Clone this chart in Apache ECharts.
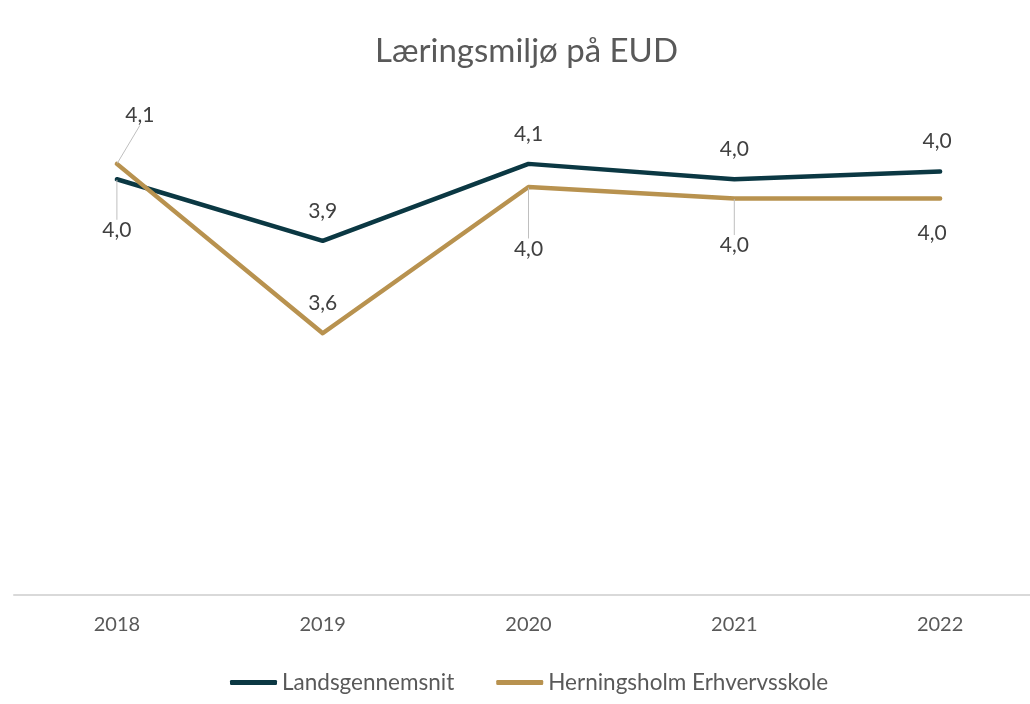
<!DOCTYPE html>
<html>
<head>
<meta charset="utf-8">
<script src="https://cdn.jsdelivr.net/npm/echarts@6/dist/echarts.min.js"></script>
<style>
  html, body { margin: 0; padding: 0; background: #fff; }
  #chart { width: 1030px; height: 704px; }
</style>
</head>
<body>
<div id="chart"></div>
<script>
// data
const years = ['2018', '2019', '2020', '2021', '2022'];
const landsgennemsnit = [4.02, 3.86, 4.06, 4.02, 4.04];
const herningsholm = [4.06, 3.62, 4.00, 3.97, 3.97];

// label nudges (dx, dy) from the default spot above each point
const landsOffsets = [[0, 81], [0, 0], [0, 0], [0, 0], [-3, 0]];
const herningOffsets = [[23, -19], [0, 0], [0, 92], [0, 77], [-8, 65]];
const landsLeader = [true, false, false, false, false];
const herningLeader = [true, false, true, true, false];

const FONT = 'Lato';
const chart = echarts.init(document.getElementById('chart'));

function fmt(p) {
  return p.value.toFixed(1).replace('.', ',');
}

function buildData(values, leaders) {
  return values.map((v, i) => ({
    value: v,
    labelLine: { show: leaders[i], lineStyle: { color: '#bfbfbf', width: 1 } }
  }));
}

function buildSeries(name, values, color, offsets, leaders) {
  return {
    name: name,
    type: 'line',
    data: buildData(values, leaders),
    symbol: 'circle',
    symbolSize: 1,
    showSymbol: true,
    itemStyle: { color: color },
    lineStyle: { color: color, width: 4.5, cap: 'round', join: 'round' },
    label: {
      show: true,
      position: 'top',
      distance: 19,
      formatter: fmt,
      fontFamily: FONT,
      fontSize: 21,
      color: '#404040'
    },
    labelLine: { show: false, lineStyle: { color: '#bfbfbf', width: 1 } },
    labelLayout: function (p) {
      const o = offsets[p.dataIndex];
      return { dx: o[0], dy: o[1] };
    },
    emphasis: { disabled: true }
  };
}

const option = {
  animation: false,
  title: {
    text: 'Læringsmiljø på EUD',
    left: 370,
    top: 30,
    textStyle: { fontFamily: FONT, fontSize: 33, fontWeight: 'normal', color: '#595959' }
  },
  legend: {
    left: 225,
    top: 666,
    icon: 'roundRect',
    itemWidth: 47,
    itemHeight: 5,
    itemGap: 42,
    textStyle: { fontFamily: FONT, fontSize: 22.5, color: '#595959' },
    data: ['Landsgennemsnit', 'Herningsholm Erhvervsskole']
  },
  grid: { left: 14, top: 33, bottom: 109, width: 1029, outerBoundsMode: 'none', containLabel: false },
  xAxis: {
    type: 'category',
    data: years,
    boundaryGap: true,
    axisLine: { lineStyle: { color: '#d9d9d9', width: 2 } },
    axisTick: { show: false },
    axisLabel: { fontFamily: FONT, fontSize: 20, color: '#595959', margin: 20 }
  },
  yAxis: {
    type: 'value',
    min: 2.94,
    max: 4.4,
    show: false,
    splitLine: { show: false }
  },
  series: [
    buildSeries('Landsgennemsnit', landsgennemsnit, '#0b3843', landsOffsets, landsLeader),
    buildSeries('Herningsholm Erhvervsskole', herningsholm, '#b8924f', herningOffsets, herningLeader)
  ]
};

chart.setOption(option);
</script>
</body>
</html>
